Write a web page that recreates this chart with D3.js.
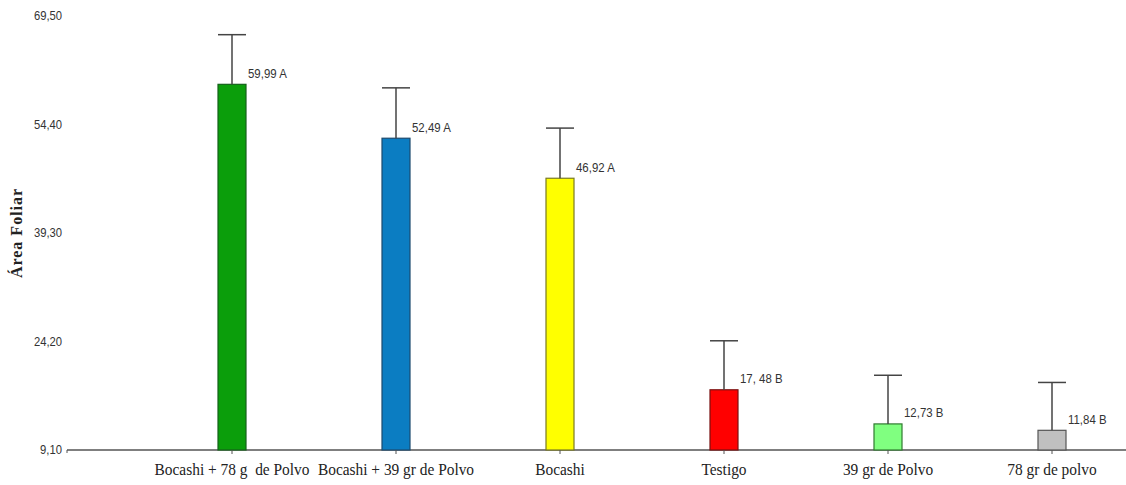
<!DOCTYPE html>
<html>
<head>
<meta charset="utf-8">
<script src="https://cdn.jsdelivr.net/npm/d3@7"></script>
<style>
  html, body { margin: 0; padding: 0; background: #fff; }
  svg { display: block; }
</style>
</head>
<body>
<svg id="chart" width="1126" height="485"></svg>
<script>
// Treatments, mean leaf area, upper error bound and significance groups
const categories = ["Bocashi + 78 g  de Polvo", "Bocashi + 39 gr de Polvo", "Bocashi", "Testigo", "39 gr de Polvo", "78 gr de polvo"];
const means = [59.99, 52.49, 46.92, 17.48, 12.73, 11.84];
const errorTops = [66.9, 59.5, 53.9, 24.3, 19.5, 18.5];
const valueLabels = ["59,99 A", "52,49 A", "46,92 A", "17, 48 B", "12,73 B", "11,84 B"];
const tickValues = [9.10, 24.20, 39.30, 54.40, 69.50];
const tickLabels = ["9,10", "24,20", "39,30", "54,40", "69,50"];
const fills = ["#0b9e0b", "#0b7dc2", "#ffff00", "#ff0000", "#80ff80", "#c0c0c0"];
const strokes = ["#14621a", "#1c4a6e", "#7a7a20", "#7a1010", "#2f7a2f", "#555555"];

const svg = d3.select("#chart");

const y = d3.scaleLinear().domain([9.10, 69.50]).range([450, 16]);
const x = d3.scaleBand().domain(categories).range([150, 1134]).padding(0);
const barW = 28;
const cx = d => x(d) + x.bandwidth() / 2;

// Baseline axis
svg.append("line")
  .attr("x1", 67).attr("x2", 1126)
  .attr("y1", y(9.10)).attr("y2", y(9.10))
  .attr("stroke", "#555").attr("stroke-width", 1.5);

// Y tick labels (narrow sans)
svg.append("g").selectAll("text")
  .data(tickValues)
  .join("text")
  .attr("transform", d => `translate(62,${y(d)}) scale(0.9,1)`)
  .attr("dy", "0.35em")
  .attr("text-anchor", "end")
  .attr("font-family", "Liberation Sans, Arial, sans-serif")
  .attr("font-size", 12.5)
  .attr("fill", "#333")
  .text((d, i) => tickLabels[i]);

// small tick at the origin
svg.append("line")
  .attr("x1", 67).attr("x2", 67)
  .attr("y1", y(9.10)).attr("y2", y(9.10) + 3)
  .attr("stroke", "#555");

// Y axis title
svg.append("text")
  .attr("transform", "translate(22,233) rotate(-90)")
  .attr("text-anchor", "middle")
  .attr("font-family", "Liberation Serif, Times New Roman, serif")
  .attr("font-weight", "bold")
  .attr("font-size", 16)
  .attr("letter-spacing", 1)
  .attr("fill", "#222")
  .text("Área Foliar");

// Bars
svg.append("g").selectAll("rect")
  .data(categories)
  .join("rect")
  .attr("x", d => cx(d) - barW / 2)
  .attr("y", (d, i) => y(means[i]))
  .attr("width", barW)
  .attr("height", (d, i) => y(9.10) - y(means[i]))
  .attr("fill", (d, i) => fills[i])
  .attr("stroke", (d, i) => strokes[i])
  .attr("stroke-width", 1.2);

// Error bars
const eb = svg.append("g").attr("stroke", "#444").attr("stroke-width", 1.5);
eb.selectAll("line.v")
  .data(categories)
  .join("line")
  .attr("class", "v")
  .attr("x1", d => cx(d)).attr("x2", d => cx(d))
  .attr("y1", (d, i) => y(means[i]))
  .attr("y2", (d, i) => y(errorTops[i]));
eb.selectAll("line.c")
  .data(categories)
  .join("line")
  .attr("class", "c")
  .attr("x1", d => cx(d) - barW / 2).attr("x2", d => cx(d) + barW / 2)
  .attr("y1", (d, i) => y(errorTops[i]))
  .attr("y2", (d, i) => y(errorTops[i]));

// X ticks
svg.append("g").selectAll("line")
  .data(categories)
  .join("line")
  .attr("x1", d => cx(d)).attr("x2", d => cx(d))
  .attr("y1", y(9.10)).attr("y2", y(9.10) + 4)
  .attr("stroke", "#555");

// Value labels with significance letters
svg.append("g").selectAll("text")
  .data(categories)
  .join("text")
  .attr("transform", (d, i) => `translate(${cx(d) + barW / 2 + 2},${y(means[i]) - 11}) scale(0.88,1)`)
  .attr("dy", "0.35em")
  .attr("font-family", "Liberation Sans, Arial, sans-serif")
  .attr("font-size", 13)
  .attr("fill", "#333")
  .text((d, i) => valueLabels[i]);

// Category labels (condensed serif)
svg.append("g").selectAll("text")
  .data(categories)
  .join("text")
  .attr("transform", d => `translate(${cx(d)},475) scale(0.88,1)`)
  .attr("text-anchor", "middle")
  .attr("font-family", "Liberation Serif, Times New Roman, serif")
  .attr("font-size", 17.5)
  .attr("fill", "#222")
  .attr("xml:space", "preserve")
  .style("white-space", "pre")
  .text(d => d);
</script>
</body>
</html>
